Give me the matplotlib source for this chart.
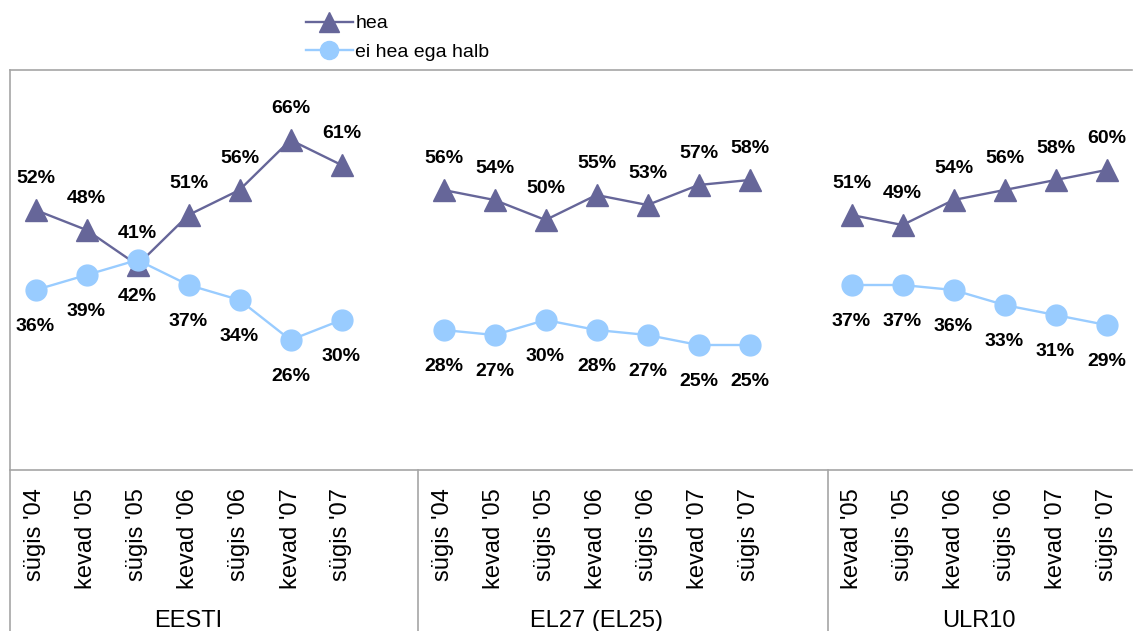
import matplotlib
matplotlib.use("Agg")
import matplotlib.pyplot as plt
from matplotlib.lines import Line2D

plt.rcParams['font.family'] = ['Liberation Sans', 'DejaVu Sans']

groups = ["EESTI", "EL27 (EL25)", "ULR10"]
group_periods = [
    ["sügis '04", "kevad '05", "sügis '05", "kevad '06", "sügis '06", "kevad '07", "sügis '07"],
    ["sügis '04", "kevad '05", "sügis '05", "kevad '06", "sügis '06", "kevad '07", "sügis '07"],
    ["kevad '05", "sügis '05", "kevad '06", "sügis '06", "kevad '07", "sügis '07"],
]
hea = [
    [52, 48, 41, 51, 56, 66, 61],
    [56, 54, 50, 55, 53, 57, 58],
    [51, 49, 54, 56, 58, 60],
]
ei_hea = [
    [36, 39, 42, 37, 34, 26, 30],
    [28, 27, 30, 28, 27, 25, 25],
    [37, 37, 36, 33, 31, 29],
]
series_names = ["hea", "ei hea ega halb"]

c_hea = "#666699"
c_ei = "#99CCFF"
grid_c = "#A6A6A6"

W, H = 1134, 631
fig = plt.figure(figsize=(W / 100, H / 100), dpi=100)
ax_left, ax_right, ax_top, ax_bot = 10, 1132, 70, 470
ax = fig.add_axes([ax_left / W, 1 - ax_bot / H, (ax_right - ax_left) / W, (ax_bot - ax_top) / H])

positions = []
start = 0
for per in group_periods:
    positions.append(list(range(start, start + len(per))))
    start += len(per) + 1
nslots = start - 1

for pos, h, e in zip(positions, hea, ei_hea):
    ax.plot(pos, h, color=c_hea, lw=1.7, marker='^', ms=16, mec=c_hea, mfc=c_hea, zorder=3)
    ax.plot(pos, e, color=c_ei, lw=1.7, marker='o', ms=15, mec=c_ei, mfc=c_ei, zorder=4)
    for x, v in zip(pos, h):
        ax.annotate(f"{v}%", (x, v), xytext=(0, 23), textcoords='offset points',
                    ha='center', va='center', fontsize=14, fontweight='bold', color='black')
    for x, v in zip(pos, e):
        ax.annotate(f"{v}%", (x, v), xytext=(0, -26), textcoords='offset points',
                    ha='center', va='center', fontsize=14, fontweight='bold', color='black')

ax.set_xlim(-0.5, nslots - 0.5)
ax.set_ylim(0, 80)
ax.set_yticks([])
ax.set_xticks([])
ax.spines['right'].set_visible(False)
for s in ['left', 'top', 'bottom']:
    ax.spines[s].set_color(grid_c)
    ax.spines[s].set_linewidth(1.2)

slot_px = (ax_right - ax_left) / nslots
def xpx(i):
    return ax_left + (i + 0.5) * slot_px

for pos, per, g in zip(positions, group_periods, groups):
    for x, lab in zip(pos, per):
        fig.text(xpx(x) / W, 1 - 488 / H, lab, rotation=90, ha='center', va='top',
                 fontsize=17, color='black')
    cx = (xpx(pos[0]) + xpx(pos[-1])) / 2
    fig.text(cx / W, 1 - 621 / H, g, ha='center', va='center', fontsize=17, color='black')

for sx in [ax_left, 418, 828]:
    fig.add_artist(Line2D([sx / W, sx / W], [0, 1 - ax_bot / H], color=grid_c, lw=1.2))

handles = [
    Line2D([0], [0], color=c_hea, lw=1.7, marker='^', ms=14, mec=c_hea, mfc=c_hea),
    Line2D([0], [0], color=c_ei, lw=1.7, marker='o', ms=13, mec=c_ei, mfc=c_ei),
]
fig.legend(handles, series_names, loc='upper left', bbox_to_anchor=(302 / W, 1 - 11 / H),
           frameon=False, fontsize=14, handlelength=2.4, handletextpad=0.15,
           labelspacing=0.55, borderaxespad=0, borderpad=0.2)

fig.savefig("out.png", dpi=100)
